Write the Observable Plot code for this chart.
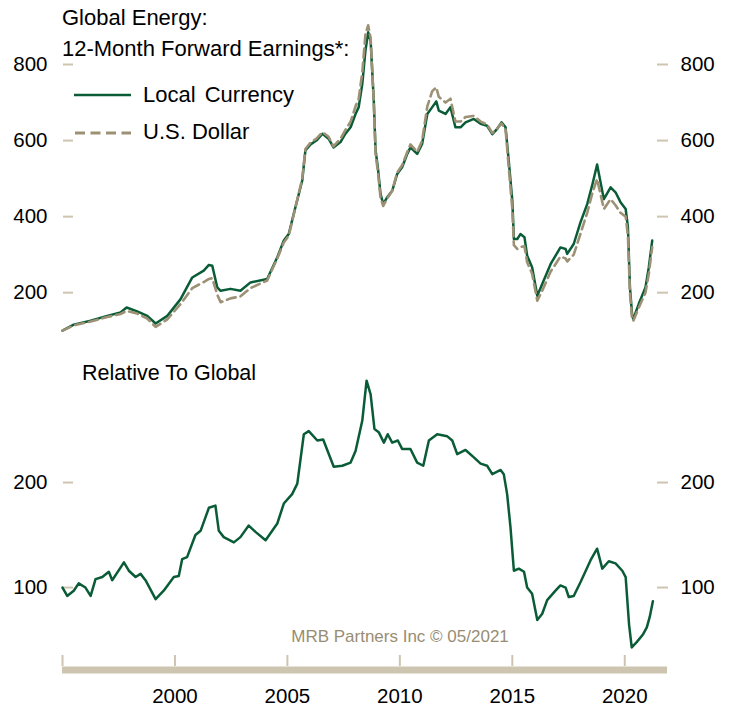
<!DOCTYPE html>
<html>
<head>
<meta charset="utf-8">
<script src="https://cdn.jsdelivr.net/npm/d3@7"></script>
<script src="https://cdn.jsdelivr.net/npm/@observablehq/plot@0.6"></script>
<style>
  body { margin: 0; background: #fff; }
  #wrap { position: relative; width: 733px; height: 709px; font-family: "Liberation Sans", Arial, sans-serif; overflow: hidden; }
  #topChart, #bottomChart { position: absolute; left: 0; }
  #topChart { top: 0; }
  #bottomChart { top: 345px; }
  .lbl { position: absolute; font-size: 22px; line-height: 22px; white-space: nowrap; color: #000; }
  #legendSwatch { position: absolute; left: 0; top: 0; }
</style>
</head>
<body>
<div id="wrap">
  <div id="topChart"></div>
  <div id="bottomChart"></div>
  <div class="lbl" style="left:62px; top:7px;">Global Energy:</div>
  <div class="lbl" style="left:62px; top:38px;">12-Month Forward Earnings*:</div>
  <div class="lbl" style="left:143px; top:84px; word-spacing:3px;">Local Currency</div>
  <div class="lbl" style="left:143px; top:121px;">U.S. Dollar</div>
  <div class="lbl" style="left:82px; top:362px; font-size:21.5px;">Relative To Global</div>
  <svg id="legendSwatch" width="140" height="150">
    <line x1="74" y1="95" x2="131" y2="95" stroke="#0a5c37" stroke-width="2.5"></line>
    <line x1="75" y1="133" x2="131" y2="133" stroke="#9d9175" stroke-width="2.8" stroke-dasharray="10,5.5"></line>
  </svg>
</div>
<script>
// ---------- DATA ----------
// Top panel: 12-month forward earnings (index), sampled dates as decimal years
const topYears = [
  1995.00, 1995.50, 1996.25, 1996.99, 1997.58, 1997.85, 1998.32, 1998.77, 1999.14, 1999.66,
  2000.25, 2000.77, 2001.28, 2001.51, 2001.66, 2001.88, 2002.03, 2002.47, 2002.91, 2003.36,
  2004.10, 2004.55, 2004.84, 2005.06, 2005.28, 2005.66, 2005.80, 2006.03, 2006.29, 2006.56,
  2006.83, 2007.05, 2007.36, 2007.58, 2007.81, 2008.03, 2008.17, 2008.33, 2008.47, 2008.59,
  2008.70, 2008.84, 2008.92, 2009.02, 2009.14, 2009.26, 2009.44, 2009.66, 2009.88, 2010.10,
  2010.33, 2010.47, 2010.77, 2010.99, 2011.22, 2011.44, 2011.62, 2011.73, 2012.03, 2012.25,
  2012.47, 2012.70, 2012.92, 2013.29, 2013.59, 2013.88, 2014.11, 2014.33, 2014.52, 2014.70,
  2014.84, 2015.00, 2015.07, 2015.22, 2015.36, 2015.54, 2015.66, 2015.88, 2016.11, 2016.33,
  2016.70, 2017.14, 2017.37, 2017.44, 2017.73, 2018.03, 2018.33, 2018.55, 2018.77, 2019.07,
  2019.37, 2019.59, 2019.81, 2020.04, 2020.14, 2020.23, 2020.33, 2020.38, 2020.62, 2020.92,
  2021.07, 2021.22
];
const localCurrency = [
  100, 116, 126, 139, 148, 161, 151, 139, 119, 139,
  183, 240, 258, 273, 271, 214, 205, 210, 205, 227,
  236, 293, 337, 354, 407, 495, 574, 590, 600, 618,
  605, 582, 596, 618, 635, 670, 688, 749, 837, 885,
  863, 705, 574, 530, 460, 433, 451, 468, 512, 530,
  565, 582, 565, 591, 670, 688, 703, 679, 670, 688,
  635, 635, 648, 657, 644, 639, 617, 631, 648, 635,
  547, 442, 341, 341, 354, 346, 297, 267, 192, 223,
  275, 319, 315, 302, 328, 385, 433, 482, 537, 446,
  477, 464, 438, 420, 372, 214, 139, 131, 170, 214,
  267, 337
];
const usDollar = [
  100, 114, 124, 136, 144, 152, 145, 132, 110, 130,
  170, 212, 228, 236, 238, 195, 175, 185, 190, 212,
  232, 290, 332, 350, 405, 500, 578, 595, 605, 622,
  610, 585, 605, 628, 650, 690, 710, 780, 880, 903,
  870, 700, 565, 520, 450, 428, 448, 468, 516, 535,
  570, 590, 570, 600, 690, 730, 740, 715, 700, 710,
  650, 650, 662, 665, 650, 642, 620, 632, 645, 630,
  530, 420, 325, 315, 320, 322, 280, 250, 179, 205,
  255, 295, 290, 282, 300, 355, 410, 460, 499, 420,
  446, 430, 410, 400, 350, 200, 128, 126, 160, 200,
  250, 320
];

// Bottom panel: relative to global
const relYears = [
  1995.00, 1995.21, 1995.50, 1995.72, 1996.02, 1996.25, 1996.47, 1996.77, 1997.06, 1997.21,
  1997.58, 1997.73, 1997.95, 1998.25, 1998.47, 1998.69, 1999.14, 1999.50, 1999.95, 2000.17,
  2000.32, 2000.54, 2000.91, 2001.14, 2001.36, 2001.51, 2001.80, 2001.95, 2002.17, 2002.62,
  2002.91, 2003.28, 2003.58, 2004.03, 2004.55, 2004.84, 2005.21, 2005.44, 2005.73, 2005.95,
  2006.33, 2006.59, 2007.06, 2007.44, 2007.81, 2008.03, 2008.33, 2008.52, 2008.70, 2008.87,
  2009.06, 2009.29, 2009.46, 2009.66, 2009.91, 2010.10, 2010.47, 2010.77, 2011.04, 2011.29,
  2011.66, 2012.11, 2012.33, 2012.55, 2012.92, 2013.29, 2013.59, 2013.88, 2014.11, 2014.48,
  2014.62, 2014.77, 2014.92, 2015.07, 2015.29, 2015.52, 2015.66, 2015.88, 2016.11, 2016.33,
  2016.55, 2016.92, 2017.14, 2017.37, 2017.51, 2017.73, 2018.03, 2018.48, 2018.77, 2019.00,
  2019.29, 2019.59, 2019.89, 2020.04, 2020.19, 2020.31, 2020.53, 2020.80, 2020.98, 2021.11,
  2021.25
];
const relValues = [
  100, 92, 97, 104, 100, 92, 108, 110, 115, 107,
  119, 124, 116, 110, 113, 107, 89, 97, 110, 111,
  127, 129, 150, 154, 167, 176, 178, 154, 148, 143,
  148, 159, 153, 145, 161, 180, 189, 199, 246, 249,
  240, 241, 215, 216, 219, 230, 259, 297, 284, 251,
  248, 238, 246, 238, 240, 232, 232, 219, 216, 240,
  246, 244, 240, 227, 231, 224, 218, 216, 208, 212,
  208, 189, 157, 116, 118, 115, 100, 94, 69, 75,
  88, 97, 102, 100, 91, 92, 105, 126, 137, 118,
  125, 123, 116, 110, 65, 43, 48, 55, 62, 72,
  87
];

// Tick values
const topTicks = [200, 400, 600, 800];
const bottomTicks = [100, 200];
const yearTicks = [1995, 2000, 2005, 2010, 2015, 2020];
const captionText = ["MRB Partners Inc © 05/2021"];

// ---------- STYLE ----------
const green = "#0a5c37";
const tanLine = "#9d9175";
const tickTan = "#cdc5b0";
const captionColor = "#988d73";
const font = '"Liberation Sans", Arial, sans-serif';
const xDomain = [1995, 2021.9];

const yearFormat = d => d === 1995 ? "" : String(d);

const topPlot = Plot.plot({
  width: 733, height: 345,
  marginLeft: 62, marginRight: 66, marginTop: 26, marginBottom: 11,
  style: {fontFamily: font, fontSize: "20px", background: "transparent", color: "#000"},
  x: {domain: xDomain, axis: null},
  y: {domain: [90, 900]},
  marks: [
    Plot.axisY(topTicks, {anchor: "left", tickSize: 10, dx: 11, tickPadding: 16, stroke: tickTan, strokeWidth: 2, fontSize: 20.5, tickFormat: d => String(d)}),
    Plot.axisY(topTicks, {anchor: "right", tickSize: 11, dx: -11, tickPadding: 13, stroke: tickTan, strokeWidth: 2, fontSize: 20.5, tickFormat: d => String(d)}),
    Plot.line(topYears, {x: topYears, y: localCurrency, stroke: green, strokeWidth: 2.5}),
    Plot.line(topYears, {x: topYears, y: usDollar, stroke: tanLine, strokeWidth: 2.6, strokeDasharray: "9,5"})
  ]
});
document.getElementById("topChart").appendChild(topPlot);

const bottomMin = 24.8;
const bottomPlot = Plot.plot({
  width: 733, height: 364,
  marginLeft: 62, marginRight: 66, marginTop: 25, marginBottom: 43,
  style: {fontFamily: font, fontSize: "20px", background: "transparent", color: "#000"},
  x: {domain: xDomain},
  y: {domain: [bottomMin, 306.7]},
  marks: [
    Plot.ruleY([bottomMin], {stroke: tickTan, strokeWidth: 7, dy: 3.5}),
    Plot.axisX(yearTicks, {anchor: "bottom", tickSize: 11, dy: -11, tickPadding: 22, stroke: tickTan, strokeWidth: 2, fontSize: 20.5, tickFormat: yearFormat}),
    Plot.axisY(bottomTicks, {anchor: "left", tickSize: 10, dx: 11, tickPadding: 16, stroke: tickTan, strokeWidth: 2, fontSize: 20.5, tickFormat: d => String(d)}),
    Plot.axisY(bottomTicks, {anchor: "right", tickSize: 11, dx: -11, tickPadding: 13, stroke: tickTan, strokeWidth: 2, fontSize: 20.5, tickFormat: d => String(d)}),
    Plot.line(relYears, {x: relYears, y: relValues, stroke: green, strokeWidth: 2.5}),
    Plot.text(captionText, {text: d => d, frameAnchor: "bottom", dx: 35, dy: -25, fill: captionColor, fontSize: 17})
  ]
});
document.getElementById("bottomChart").appendChild(bottomPlot);
</script>
</body>
</html>
